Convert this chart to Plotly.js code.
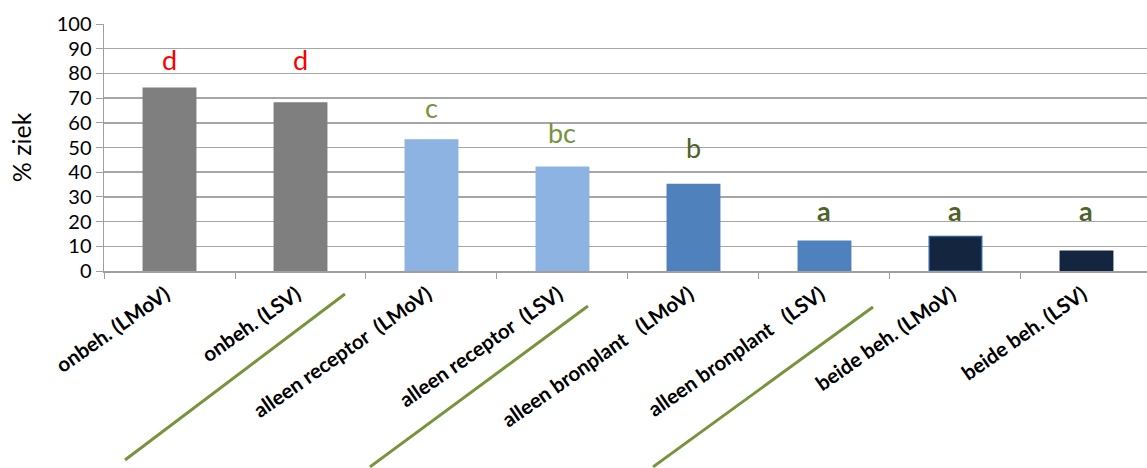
<!DOCTYPE html>
<html>
<head>
<meta charset="utf-8">
<script src="https://cdn.plot.ly/plotly-3.0.1.min.js"></script>
<style>html,body{margin:0;padding:0;background:#fff;}#chart{width:1147px;height:468px;}</style>
</head>
<body>
<div id="chart"></div>
<script>
const categories = ["onbeh. (LMoV)", "onbeh. (LSV)", "alleen receptor  (LMoV)", "alleen receptor  (LSV)",
  "alleen bronplant   (LMoV)", "alleen bronplant   (LSV)", "beide beh. (LMoV)", "beide beh. (LSV)"];
const values = [74, 68, 53, 42, 35, 12, 14, 8];
const barColors = ["#7f7f7f", "#7f7f7f", "#8db3e2", "#8db3e2", "#4f81bd", "#4f81bd", "#14253f", "#14253f"];
const lineColors = ["#7f7f7f", "#7f7f7f", "#8db3e2", "#8db3e2", "#4f81bd", "#4f81bd", "#2c5a93", "#14253f"];
const letters = ["d", "d", "c", "bc", "b", "a", "a", "a"];
const letterY = [85.5, 85.5, 66, 56, 50, 24.5, 24.5, 24.5];
const letterColors = ["#ff0000", "#ff0000", "#77933c", "#77933c", "#4f6228", "#4f6228", "#4f6228", "#4f6228"];
const letterBold = [false, false, false, false, false, true, true, true];
const yTicks = [0, 10, 20, 30, 40, 50, 60, 70, 80, 90, 100];

const trace = {
  type: "bar",
  x: categories,
  y: values,
  width: 0.4,
  marker: { color: barColors, line: { color: lineColors, width: 1.5 } },
  hoverinfo: "x+y"
};

const annotations = categories.map((c, i) => ({
  x: c, y: letterY[i], xref: "x", yref: "y",
  text: letterBold[i] ? "<b>" + letters[i] + "</b>" : letters[i],
  showarrow: false,
  font: { family: "Lato, 'Open Sans', sans-serif", size: 27, color: letterColors[i] },
  xanchor: "center", yanchor: "middle"
}));

const greenLine = { color: "#77933c", width: 3 };
const shapes = [
  { type: "line", xref: "paper", yref: "paper", x0: 0.0201, y0: -0.765, x1: 0.231, y1: -0.093, line: greenLine },
  { type: "line", xref: "paper", yref: "paper", x0: 0.255, y0: -0.793, x1: 0.464, y1: -0.142, line: greenLine },
  { type: "line", xref: "paper", yref: "paper", x0: 0.5264, y0: -0.793, x1: 0.7373, y1: -0.146, line: greenLine }
];

const layout = {
  width: 1147, height: 468,
  margin: { l: 104, r: 0, t: 24, b: 197 },
  paper_bgcolor: "#fff", plot_bgcolor: "#fff",
  showlegend: false,
  bargap: 0.6,
  font: { family: "Lato, 'Open Sans', sans-serif", color: "#000" },
  xaxis: {
    type: "category",
    range: [-0.5, 7.462],
    tickangle: -35,
    tickfont: { family: "Lato, 'Open Sans', sans-serif", size: 20.5, color: "#000", weight: "bold" },
    ticklabelshift: -4,
    ticklabelstandoff: 2,
    showline: true, linecolor: "#a0a0a0", linewidth: 1.5,
    ticks: "outside", ticklen: 6, tickcolor: "#a0a0a0", tickwidth: 1,
    tickson: "boundaries",
    showgrid: false, zeroline: false,
    automargin: false
  },
  yaxis: {
    range: [0, 100],
    tickvals: yTicks,
    tickfont: { size: 20, color: "#000" },
    showline: true, linecolor: "#a0a0a0", linewidth: 1.5,
    ticks: "outside", ticklen: 7, tickcolor: "#a0a0a0",
    showgrid: true, gridcolor: "#a6a6a6", gridwidth: 1.5,
    zeroline: false,
    title: { text: "% ziek", font: { size: 25, color: "#000" }, standoff: 18 },
    automargin: false
  },
  annotations: annotations,
  shapes: shapes
};

Plotly.newPlot("chart", [trace], layout, { displayModeBar: false, staticPlot: true });
</script>
</body>
</html>
